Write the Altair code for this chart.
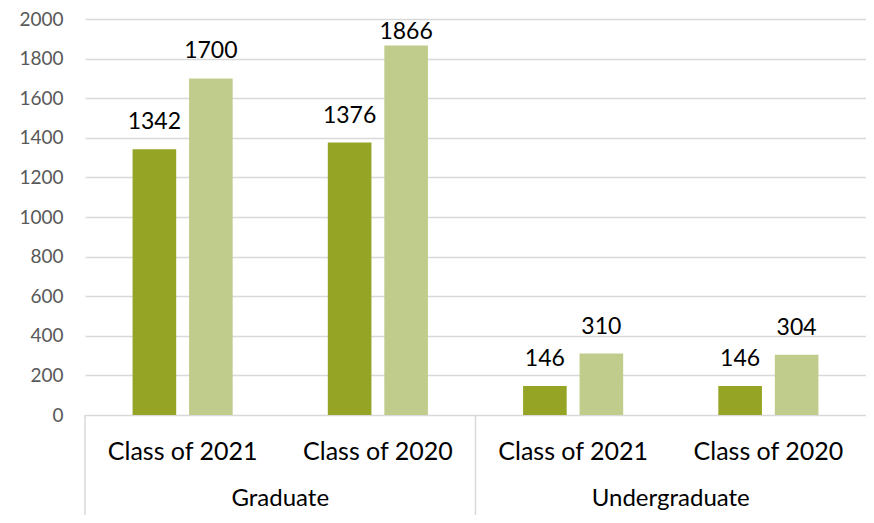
import altair as alt
import pandas as pd

# ---- data ----
groups = ["Graduate", "Graduate", "Undergraduate", "Undergraduate"]
classes = ["Class of 2021", "Class of 2020", "Class of 2021", "Class of 2020"]
series_names = ["Series 1", "Series 2"]
series_1 = [1342, 1376, 146, 146]
series_2 = [1700, 1866, 310, 304]
y_ticks = [0, 200, 400, 600, 800, 1000, 1200, 1400, 1600, 1800, 2000]
group_names = ["Graduate", "Undergraduate"]

# ---- tables built from the arrays ----
slots = [f"{g} | {c}" for g, c in zip(groups, classes)]
rows = []
for i, s in enumerate(slots):
    rows.append({"slot": s, "series": series_names[0], "value": series_1[i]})
    rows.append({"slot": s, "series": series_names[1], "value": series_2[i]})
bars_df = pd.DataFrame(rows)
cat_df = pd.DataFrame({"slot": slots, "label": classes})
# group label sits at the boundary between the two classes of a group (start of 2nd slot)
grp_df = pd.DataFrame({"slot": [slots[1], slots[3]], "label": group_names})
# separator lines: left edge of the first slot and of the third slot
sep_left_df = pd.DataFrame({"slot": [slots[0], slots[2]]})

W, H = 781, 396
FONT = "Lato"
DARK, LIGHT = "#95A424", "#C0CC8C"
GRID = "#D9D9D9"

xscale = alt.Scale(domain=slots, paddingInner=0, paddingOuter=0)
yscale = alt.Scale(domain=[0, 2000], nice=False)
y_axis = alt.Axis(values=y_ticks, tickCount=len(y_ticks) + 5, format="d", labelOverlap=False,
                  title=None, domain=False, ticks=False, tickSize=0,
                  labelPadding=22, labelFont=FONT, labelFontSize=19,
                  labelColor="#595959", gridColor=GRID, gridWidth=1.5)
x_enc = alt.X("slot:N", scale=xscale, axis=None)
xoff = alt.XOffset("series:N", sort=series_names,
                   scale=alt.Scale(domain=series_names, paddingInner=0.228, paddingOuter=0.842))

bars = alt.Chart(bars_df).mark_bar().encode(
    x=x_enc, xOffset=xoff,
    y=alt.Y("value:Q", scale=yscale, axis=y_axis),
    color=alt.Color("series:N", scale=alt.Scale(domain=series_names, range=[DARK, LIGHT]), legend=None),
)

# labels are kept inside the chart area (like the original), so the tallest one is pulled down
labels = alt.Chart(bars_df).transform_calculate(
    label_y="min(datum.value, 1800)"
).mark_text(baseline="alphabetic", dy=-20, font=FONT, fontSize=23, color="#000000").encode(
    x=x_enc, xOffset=xoff,
    y=alt.Y("label_y:Q", scale=yscale, axis=y_axis),
    text=alt.Text("value:Q"),
)

cat_labels = alt.Chart(cat_df).mark_text(baseline="middle", font=FONT, fontSize=25,
                                         color="#000000").encode(
    x=x_enc, y=alt.value(H + 37), text="label:N",
)

grp_labels = alt.Chart(grp_df).mark_text(baseline="middle", font=FONT, fontSize=24,
                                         color="#000000").encode(
    x=alt.X("slot:N", scale=xscale, axis=None, bandPosition=0), y=alt.value(H + 84), text="label:N",
)

sep_left = alt.Chart(sep_left_df).mark_rule(color=GRID, strokeWidth=1.5).encode(
    x=alt.X("slot:N", scale=xscale, axis=None, bandPosition=0),
    y=alt.value(H), y2=alt.value(H + 104),
)

chart = alt.layer(bars, labels, cat_labels, grp_labels, sep_left).properties(
    width=W, height=H,
    background="white",
    autosize=alt.AutoSizeParams(type="none"),
    padding={"left": 77, "top": 11, "right": 0, "bottom": 100},
).configure_view(stroke=None)

chart.save("out.html", embed_options={"renderer": "svg", "actions": False})
